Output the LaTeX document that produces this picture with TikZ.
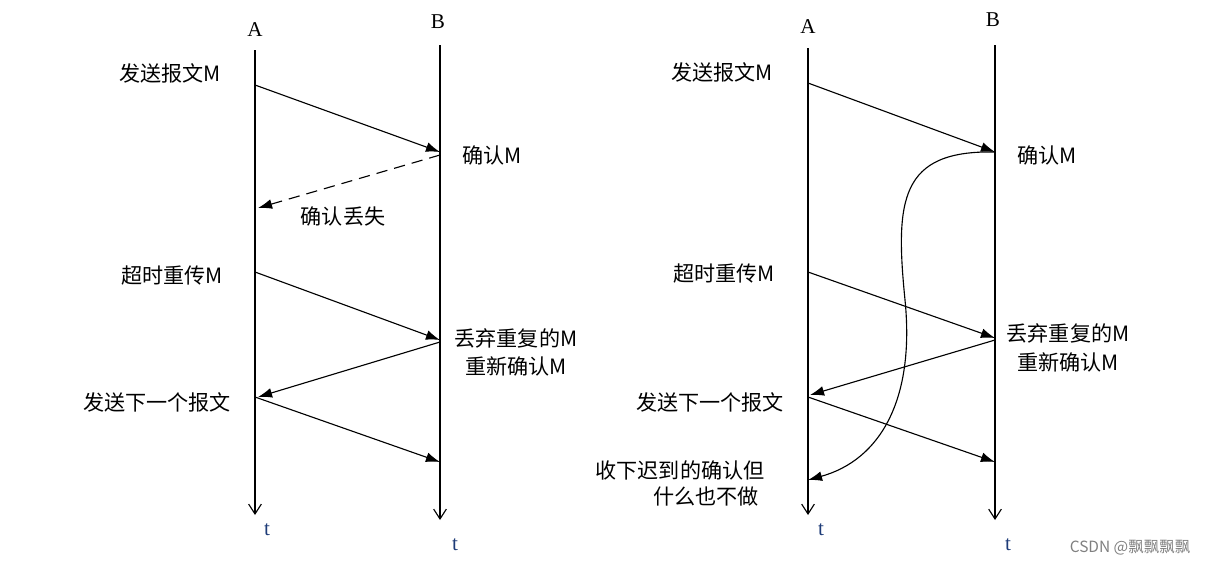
\documentclass[tikz,border=0pt]{standalone}
\usepackage{fontspec}
\setmainfont{Liberation Serif}
\newfontfamily\cjk{Noto Sans CJK SC}
\usetikzlibrary{arrows.meta}
\definecolor{tblue}{RGB}{30,60,120}
\tikzset{
  life/.style={->,>={Straight Barb[length=7pt,width=9pt]},thick},
  msg/.style={-{Latex[length=10pt,width=7pt]},thick},
  lbl/.style={font=\cjk\fontsize{15}{18}\selectfont,inner sep=1pt},
  tlbl/.style={font=\fontsize{15}{18}\selectfont,text=tblue}
}
\begin{document}
\begin{tikzpicture}[x=0.025cm,y=-0.025cm]
    \useasboundingbox (0,0) rectangle (1220,567);

    % Left: time lines
    \coordinate (a1top) at (255,50);  \coordinate (a1bot) at (255,515);
    \coordinate (b1top) at (440,45);  \coordinate (b1bot) at (440,520);
    \draw[life] (a1top) -- (a1bot);
    \draw[life] (b1top) -- (b1bot);
    \node[tlbl,text=black] (a1) at (255,30) {A};
    \node[tlbl,text=black] (b1) at (438,22) {B};
    \node[tlbl] (t1a) at (267,530) {t};
    \node[tlbl] (t1b) at (455,545) {t};

    % Left: messages
    \coordinate (l1) at (255,85);  \coordinate (l2) at (440,152);
    \coordinate (l3) at (440,155); \coordinate (l4) at (258,208);
    \coordinate (l5) at (255,272); \coordinate (l6) at (440,340);
    \coordinate (l7) at (440,342); \coordinate (l8) at (258,397);
    \coordinate (l9) at (255,397); \coordinate (l10) at (440,462);
    \draw[msg] (l1) -- (l2);
    \draw[msg,dash pattern=on 8pt off 5pt] (l3) -- (l4);
    \draw[msg] (l5) -- (l6);
    \draw[msg] (l7) -- (l8);
    \draw[msg] (l9) -- (l10);

    % Left: labels
    \node[lbl] (ls1) at (170,73) {发送报文M};
    \node[lbl] (lr1) at (492,155) {确认M};
    \node[lbl] (llost) at (343,216) {确认丢失};
    \node[lbl] (ls2) at (172,275) {超时重传M};
    \node[lbl] (lr2) at (516,338) {丢弃重复的M};
    \node[lbl] (lr3) at (516,366) {重新确认M};
    \node[lbl] (ls3) at (157,402) {发送下一个报文};

    % Right: time lines
    \coordinate (a2top) at (808,48);  \coordinate (a2bot) at (808,515);
    \coordinate (b2top) at (995,45);  \coordinate (b2bot) at (995,520);
    \draw[life] (a2top) -- (a2bot);
    \draw[life] (b2top) -- (b2bot);
    \node[tlbl,text=black] (a2) at (808,27) {A};
    \node[tlbl,text=black] (b2) at (993,20) {B};
    \node[tlbl] (t2a) at (821,530) {t};
    \node[tlbl] (t2b) at (1008,545) {t};

    % Right: messages
    \coordinate (r1) at (808,83);  \coordinate (r2) at (995,152);
    \coordinate (r5) at (808,272); \coordinate (r6) at (995,338);
    \coordinate (r7) at (995,340); \coordinate (r8) at (810,395);
    \coordinate (r9) at (808,397); \coordinate (r10) at (995,462);
    \coordinate (rlate) at (808,480);
    \draw[msg] (r1) -- (r2);
    \draw[msg] (r2) .. controls (900,150) and (895,200) .. (905,300)
                    .. controls (915,400) and (880,460) .. (rlate);
    \draw[msg] (r5) -- (r6);
    \draw[msg] (r7) -- (r8);
    \draw[msg] (r9) -- (r10);

    % Right: labels
    \node[lbl] (rs1) at (722,72) {发送报文M};
    \node[lbl] (rr1) at (1047,155) {确认M};
    \node[lbl] (rs2) at (724,273) {超时重传M};
    \node[lbl] (rr2) at (1068,333) {丢弃重复的M};
    \node[lbl] (rr3) at (1068,362) {重新确认M};
    \node[lbl] (rs3) at (710,402) {发送下一个报文};
    \node[lbl] (rs4) at (680,470) {收下迟到的确认但};
    \node[lbl] (rs5) at (706,496) {什么也不做};

    % Watermark
    \node[font=\cjk\fontsize{11}{13}\selectfont,text=gray] (mark) at (1130,548) {CSDN @飘飘飘飘};
\end{tikzpicture}
\end{document}
